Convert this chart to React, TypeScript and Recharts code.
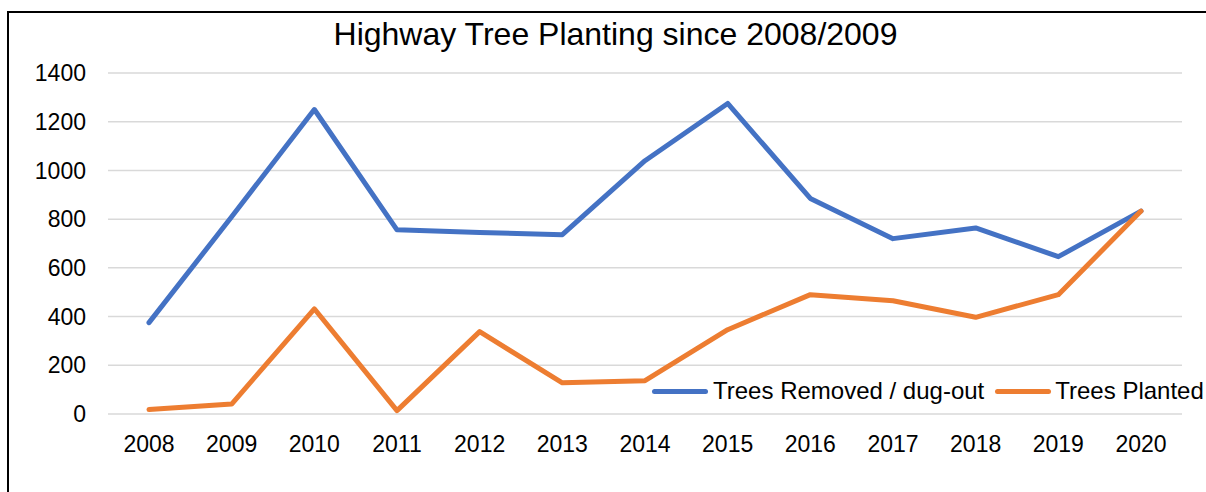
import React from 'react';
import { LineChart, Line, XAxis, YAxis, CartesianGrid } from 'recharts';

const years = ['2008', '2009', '2010', '2011', '2012', '2013', '2014', '2015', '2016', '2017', '2018', '2019', '2020'];
const treesRemoved = [375, 810, 1250, 756, 745, 736, 1040, 1275, 885, 720, 764, 646, 833];
const treesPlanted = [18, 41, 432, 14, 338, 128, 137, 346, 490, 465, 397, 490, 833];
const yTicks = [0, 200, 400, 600, 800, 1000, 1200, 1400];

const BLUE = '#4472C4';
const ORANGE = '#ED7D31';
const FONT = '"Liberation Sans", Arial, sans-serif';

const data = years.map((y, i) => ({ year: y, removed: treesRemoved[i], planted: treesPlanted[i] }));

const LegendBox = () => (
  <div style={{ position: 'absolute', left: 652, top: 378, height: 26, display: 'flex', alignItems: 'center', fontFamily: FONT, fontSize: 24, color: '#000', whiteSpace: 'nowrap', lineHeight: '26px' }}>
    <span style={{ display: 'inline-block', width: 56, height: 5, borderRadius: 3, background: BLUE, marginRight: 5 }} />
    <span style={{ marginRight: 11 }}>Trees Removed / dug-out</span>
    <span style={{ display: 'inline-block', width: 56, height: 5, borderRadius: 3, background: ORANGE, marginRight: 4 }} />
    <span>Trees Planted</span>
  </div>
);

export default function App() {
  return (
    <div style={{ position: 'absolute', left: 0, top: 0, width: 1206, height: 492, overflow: 'hidden', background: '#fff' }}>
      <div style={{ position: 'absolute', left: 7, top: 11, width: 1400, height: 700, border: '2px solid #000', boxSizing: 'border-box' }} />
      <div style={{ position: 'absolute', left: 0, top: 18, width: 1231, textAlign: 'center', fontFamily: FONT, fontSize: 32, lineHeight: '32px', color: '#000' }}>
        Highway Tree Planting since 2008/2009
      </div>
      <div style={{ position: 'absolute', left: 0, top: 0 }}>
        <LineChart width={1206} height={492} data={data} margin={{ top: 73, right: 24, bottom: 0, left: 8 }}>
          <CartesianGrid horizontal vertical={false} stroke="#D9D9D9" strokeWidth={1.5} />
          <XAxis
            dataKey="year"
            height={78}
            padding={{ left: 41, right: 41 }}
            axisLine={false}
            tickLine={false}
            tickSize={0}
            tickMargin={22}
            interval={0}
            tick={{ fill: '#000', fontSize: 23, fontFamily: FONT }}
          />
          <YAxis
            width={100}
            domain={[0, 1400]}
            ticks={yTicks}
            axisLine={false}
            tickLine={false}
            tickSize={0}
            tickMargin={22}
            interval={0}
            tick={{ fill: '#000', fontSize: 23, fontFamily: FONT }}
          />
          <Line type="linear" dataKey="removed" stroke={BLUE} strokeWidth={5} dot={false} strokeLinecap="round" strokeLinejoin="round" isAnimationActive={false} />
          <Line type="linear" dataKey="planted" stroke={ORANGE} strokeWidth={5} dot={false} strokeLinecap="round" strokeLinejoin="round" isAnimationActive={false} />
        </LineChart>
      </div>
      <LegendBox />
    </div>
  );
}
